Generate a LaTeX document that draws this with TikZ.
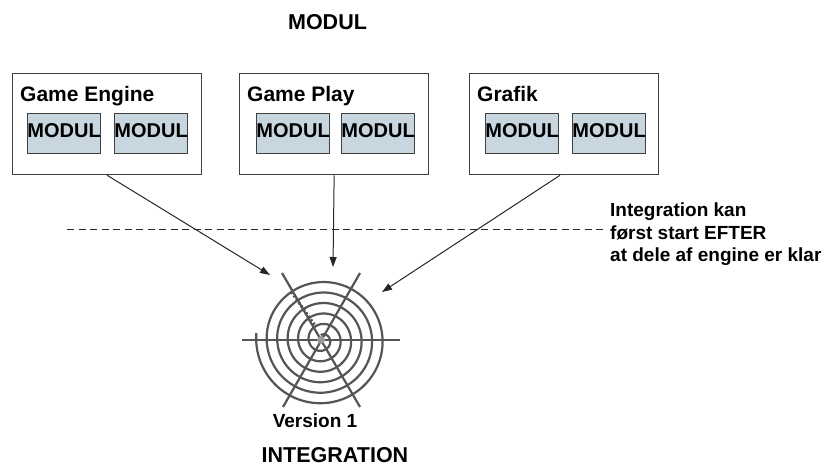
\documentclass[tikz,border=0pt]{standalone}
\usepackage{fontspec}
\setmainfont{Liberation Sans}
\usetikzlibrary{arrows.meta}
\definecolor{boxline}{RGB}{64,64,64}
\definecolor{modfill}{RGB}{200,214,224}
\definecolor{targetgray}{RGB}{85,85,85}
\tikzset{
  groupbox/.style={draw=boxline, line width=1.3pt, fill=white, minimum width=189pt, minimum height=101pt, inner sep=0pt, anchor=north west},
  modbox/.style={draw=boxline, line width=0.8pt, fill=modfill, minimum width=71pt, minimum height=40pt, inner sep=0pt, anchor=north west, font=\fontsize{20}{22}\selectfont\bfseries, text depth=6pt},
  grouptitle/.style={anchor=base west, inner sep=0pt, font=\fontsize{21}{25}\selectfont\bfseries},
  note/.style={anchor=base west, inner sep=0pt, font=\fontsize{19}{22}\selectfont\bfseries},
  heading/.style={anchor=base, inner sep=0pt, font=\fontsize{21.5}{25}\selectfont\bfseries},
  feed/.style={draw=black!85, line width=1pt, -{Triangle[length=10pt,width=7pt]}},
  targetline/.style={draw=targetgray, line width=2.2pt},
}
\begin{document}
\begin{tikzpicture}[x=1pt,y=-1pt]
\useasboundingbox (0,0) rectangle (827,467);

% heading
\node[heading] (top) at (327.5,29) {MODUL};

% the three module groups
\node[groupbox] (ge) at (12,73) {};
\node[groupbox] (gp) at (239,73) {};
\node[groupbox] (gr) at (469,73) {};

\node[grouptitle] (get) at (20,101) {Game Engine};
\node[grouptitle] (gpt) at (247,101) {Game Play};
\node[grouptitle] (grt) at (477,101) {Grafik};

\node[modbox] (m1) at (27,113) {MODUL};
\node[modbox] (m2) at (114,113) {MODUL};
\node[modbox] (m3) at (256,113) {MODUL};
\node[modbox] (m4) at (341,113) {MODUL};
\node[modbox] (m5) at (485,113) {MODUL};
\node[modbox] (m6) at (572,113) {MODUL};

% dashed threshold line and its note
\coordinate (dl) at (67,229);
\coordinate (dr) at (603,229);
\draw[black!85, line width=0.9pt, dash pattern=on 7pt off 4.5pt] (dl) -- (dr);

\node[note] (n1) at (610,216.5) {Integration kan};
\node[note] (n2) at (610,239) {først start EFTER};
\node[note] (n3) at (610,261.5) {at dele af engine er klar};

% the integration target
\coordinate (c) at (321,340);
\coordinate (h1) at (242,340);
\coordinate (h2) at (400,340);
\coordinate (d1a) at (282,273);
\coordinate (d1b) at (360,407);
\coordinate (d2a) at (360,273);
\coordinate (d2b) at (283,407);

\draw[targetline] plot[domain=0:2090, samples=700, smooth]
  ({322+(66-\x/360*10.5)*cos(186-\x)}, {340+(66-\x/360*10.5)*sin(186-\x)});
\draw[targetline] (h1) -- (h2);
\draw[targetline] (d1a) -- (d1b);
\draw[targetline] (d2a) -- (d2b);
\draw[targetgray, line width=3pt, dash pattern=on 2pt off 2.2pt] (291.5,292) -- (316,327);
\fill[targetgray!60] (c) circle (4pt);

% arrows from the groups into the target
\coordinate (ta) at (270,275);
\coordinate (tb) at (333,267);
\coordinate (tc) at (382,292);
\draw[feed] (ge.south) -- (ta);
\draw[feed] (gp.south) -- (tb);
\draw[feed] (gr.south -| 560,0) -- (tc);

\node[note, anchor=base] (v1) at (315,427) {Version 1};
\node[heading] (bot) at (335,462) {INTEGRATION};
\end{tikzpicture}
\end{document}
